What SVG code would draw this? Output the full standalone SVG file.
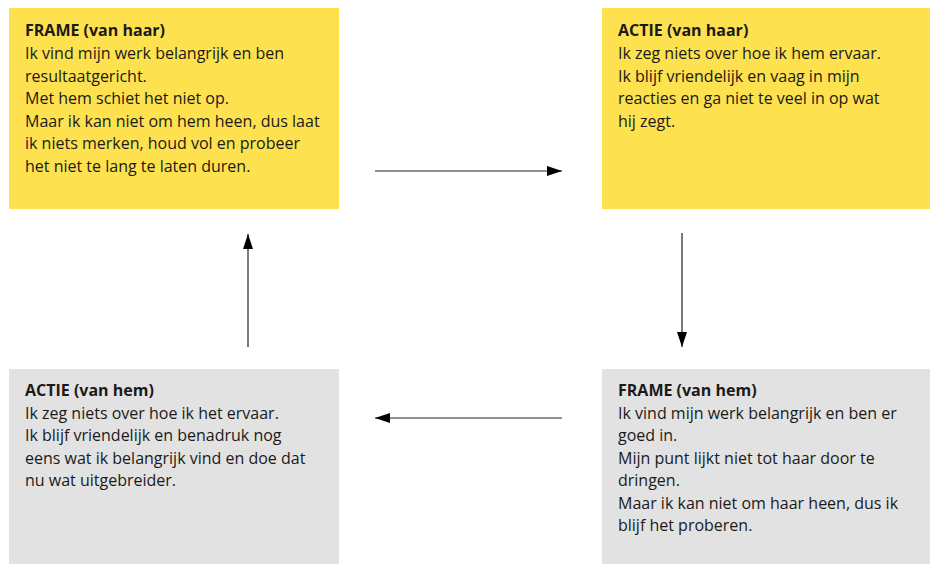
<svg xmlns="http://www.w3.org/2000/svg" width="930" height="564" viewBox="0 0 930 564">
<style>
.y{fill:#FEE14E}
.g{fill:#E2E2E2}
text{font-family:"Open Sans","Noto Sans",sans-serif;font-size:16px;fill:#1a1a1a}
.t{font-weight:bold}
.c{stroke:#222;stroke-width:1.2;fill:none;marker-end:url(#ah)}
</style>
<defs>
<marker id="ah" viewBox="0 0 15 10" refX="15" refY="5" markerWidth="15" markerHeight="10" markerUnits="userSpaceOnUse" orient="auto">
<path d="M0,0 L15,5 L0,10 Z" fill="#000"/>
</marker>
</defs>
<rect width="930" height="564" fill="#fff"/>
<g id="frame-haar">
<rect class="y" x="9" y="8" width="330" height="201"/>
<text x="25" y="36"><tspan class="t">FRAME (van haar)</tspan><tspan x="25" y="59">Ik vind mijn werk belangrijk en ben</tspan><tspan x="25" y="81.5">resultaatgericht.</tspan><tspan x="25" y="104">Met hem schiet het niet op.</tspan><tspan x="25" y="126.5">Maar ik kan niet om hem heen, dus laat</tspan><tspan x="25" y="149">ik niets merken, houd vol en probeer</tspan><tspan x="25" y="171.5">het niet te lang te laten duren.</tspan></text>
</g>
<g id="actie-haar">
<rect class="y" x="602" y="8" width="328" height="201"/>
<text x="618" y="36"><tspan class="t">ACTIE (van haar)</tspan><tspan x="618" y="59">Ik zeg niets over hoe ik hem ervaar.</tspan><tspan x="618" y="81.5">Ik blijf vriendelijk en vaag in mijn</tspan><tspan x="618" y="104">reacties en ga niet te veel in op wat</tspan><tspan x="618" y="126.5">hij zegt.</tspan></text>
</g>
<g id="actie-hem">
<rect class="g" x="9" y="369" width="330" height="195"/>
<text x="25" y="396"><tspan class="t">ACTIE (van hem)</tspan><tspan x="25" y="418.5">Ik zeg niets over hoe ik het ervaar.</tspan><tspan x="25" y="441">Ik blijf vriendelijk en benadruk nog</tspan><tspan x="25" y="463.5">eens wat ik belangrijk vind en doe dat</tspan><tspan x="25" y="486">nu wat uitgebreider.</tspan></text>
</g>
<g id="frame-hem">
<rect class="g" x="602" y="369" width="328" height="195"/>
<text x="618" y="396"><tspan class="t">FRAME (van hem)</tspan><tspan x="618" y="418.5">Ik vind mijn werk belangrijk en ben er</tspan><tspan x="618" y="441">goed in.</tspan><tspan x="618" y="463.5">Mijn punt lijkt niet tot haar door te</tspan><tspan x="618" y="486">dringen.</tspan><tspan x="618" y="508.5">Maar ik kan niet om haar heen, dus ik</tspan><tspan x="618" y="531">blijf het proberen.</tspan></text>
</g>
<g id="connectors">
<line class="c" x1="375" y1="171" x2="562" y2="171"/>
<line class="c" x1="682" y1="233" x2="682" y2="347"/>
<line class="c" x1="562" y1="418" x2="375" y2="418"/>
<line class="c" x1="248" y1="347" x2="248" y2="234"/>
</g>
</svg>
